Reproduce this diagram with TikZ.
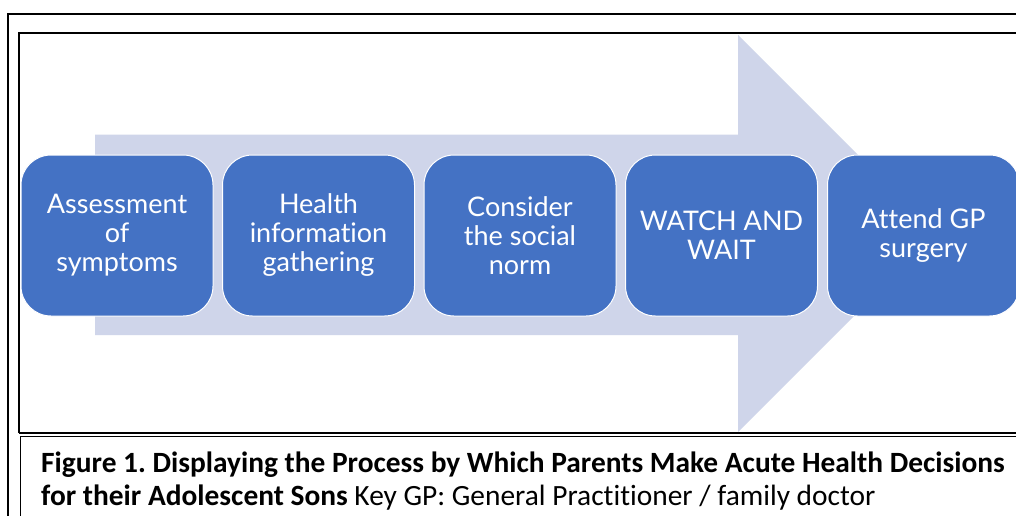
\documentclass[tikz,border=0pt]{standalone}
\usepackage{fontspec}
\setmainfont{Carlito}[Ligatures=NoCommon]
\newfontfamily\boxfont{Lato}[Ligatures=NoCommon]
\definecolor{boxblue}{HTML}{4472C4}
\definecolor{arrowfill}{HTML}{CFD5EA}
\frenchspacing
\begin{document}
\begin{tikzpicture}[x=1pt,y=-1pt,
  stepbox/.style={draw=white, line width=1pt, fill=boxblue, rounded corners=30pt,
    minimum width=192pt, minimum height=161pt, text=white, align=center,
    font=\boxfont\fontsize{27}{29}\selectfont, inner sep=0pt},
  outerline/.style={draw=black, line width=2pt},
  innerline/.style={draw=black, line width=1.5pt},
  captext/.style={anchor=base west, inner sep=0pt, font=\fontsize{29.4}{33}\selectfont}]
\useasboundingbox (0,0) rectangle (1016,515);
\begin{scope}
\clip (0,0) rectangle (1016,515);
\fill[white] (0,0) rectangle (1016,515);
% frames
\draw[outerline] (8,1030) -- (8,14) -- (1030,14);
\draw[innerline] (19,433) -- (19,33) -- (1030,33);
\draw[innerline] (19,433) -- (1030,433);
\draw[innerline] (20.5,530) -- (20.5,436.5) -- (1030,436.5);
% big arrow
\fill[arrowfill] (95,134.5) -- (738,134.5) -- (738,35) -- (936.5,233.5)
  -- (738,432) -- (738,335) -- (95,335) -- cycle;
% steps
\node[stepbox] (b1) at (117,235.5) {Assessment\\of\\symptoms};
\node[stepbox] (b2) at (318.5,235.5) {Health\\information\\gathering};
\node[stepbox] (b3) at (520,235.5) {Consider\\the social\\norm};
\node[stepbox] (b4) at (721.5,235.5) {WATCH AND\\WAIT};
\node[stepbox] (b5) at (923.5,235.5) {Attend GP\\surgery};
% caption
\node[captext] (cap1) at (41,472) {\bfseries Figure 1. Displaying the Process by Which Parents Make Acute Health Decisions};
\node[captext] (cap2) at (41,505.5) {\bfseries for their Adolescent Sons\mdseries{} Key GP: General Practitioner / family doctor};
\end{scope}
\end{tikzpicture}
\end{document}
